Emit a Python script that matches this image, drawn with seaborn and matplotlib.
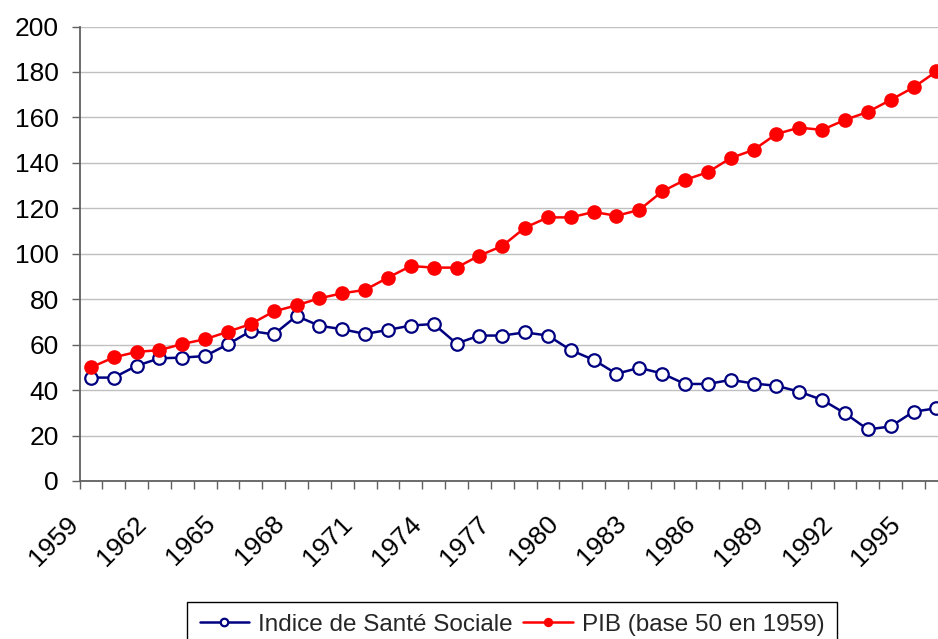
import numpy as np
import pandas as pd
import matplotlib
matplotlib.use("Agg")
import matplotlib.pyplot as plt
import matplotlib.transforms as mtransforms
from matplotlib.ticker import FixedLocator
import seaborn as sns

# data
years = list(range(1959, 1997))
indice_sante = [45.5, 45.5, 50.7, 54.0, 54.3, 55.0, 60.2, 66.0, 64.5, 72.6,
                68.3, 66.8, 64.7, 66.5, 68.4, 69.1, 60.5, 64.0, 64.0, 65.4,
                64.0, 57.6, 53.3, 47.2, 49.8, 47.3, 42.7, 42.7, 44.5, 42.9,
                41.9, 39.3, 35.7, 29.8, 22.7, 24.0, 30.5, 32.0]
pib = [50.0, 54.4, 56.8, 57.6, 60.3, 62.4, 65.7, 69.1, 74.6, 77.3,
       80.4, 82.6, 84.1, 89.5, 94.6, 93.9, 93.9, 99.2, 103.4, 111.5,
       116.0, 116.0, 118.4, 116.7, 119.3, 127.4, 132.5, 135.9, 142.1, 145.7,
       152.7, 155.5, 154.5, 158.9, 162.4, 167.7, 173.2, 180.2]
label_years = list(range(1959, 1996, 3))
y_ticks = list(range(0, 201, 20))

df = pd.DataFrame({'annee': years, 'sante': indice_sante, 'pib': pib})

sns.set_theme(style="white")
plt.rcParams['font.family'] = ['Liberation Sans', 'DejaVu Sans']

W, H = 938, 639
fig = plt.figure(figsize=(W / 100, H / 100), dpi=100)
cat_w = 22.85
ax = fig.add_axes([79.5 / W, (H - 481) / H, 38 * cat_w / W, 454.5 / H])

sns.lineplot(data=df, x='annee', y='sante', ax=ax, color='#000080', marker='o',
             markersize=9, markerfacecolor='white', markeredgecolor='#000080',
             markeredgewidth=1.6, linewidth=1.8, label='Indice de Santé Sociale')
sns.lineplot(data=df, x='annee', y='pib', ax=ax, color='#ff0000', marker='o',
             markersize=9.5, markeredgecolor='#ff0000', markeredgewidth=1,
             linewidth=1.8, label='PIB (base 50 en 1959)')

handles, labels = ax.get_legend_handles_labels()
if ax.get_legend() is not None:
    ax.get_legend().remove()

ax.set_xlim(1958.5, 1996.5)
ax.set_ylim(0, 200)
ax.set_xlabel('')
ax.set_ylabel('')

# y axis
ax.set_yticks(y_ticks)
ax.yaxis.grid(True, color='#c0c0c0', linewidth=1)
ax.xaxis.grid(False)
ax.tick_params(axis='y', which='major', direction='out', length=6, width=1,
               color='#606060', labelsize=19, pad=9, labelcolor='black', left=True)

# x axis: ticks between categories, labels every 3 years
ax.set_xticks(label_years)
ax.set_xticklabels([str(y) for y in label_years], rotation=45, ha='right', va='top')
ax.xaxis.set_minor_locator(FixedLocator([1958.5 + k for k in range(39)]))
ax.tick_params(axis='x', which='major', length=0, labelsize=19, pad=22, labelcolor='black')
ax.tick_params(axis='x', which='minor', direction='out', length=6, width=1,
               color='#606060', bottom=True)
offset = mtransforms.ScaledTranslation(-8 / 100, 0, fig.dpi_scale_trans)
for lab in ax.get_xticklabels():
    lab.set_transform(lab.get_transform() + offset)

for side in ['top', 'right']:
    ax.spines[side].set_visible(False)
for side in ['left', 'bottom']:
    ax.spines[side].set_color('#606060')
    ax.spines[side].set_linewidth(1.3)

leg = fig.legend(handles, labels, loc='upper center',
                 bbox_to_anchor=(512 / W, (H - 601.5) / H), ncol=2,
                 frameon=True, fancybox=False, edgecolor='black', framealpha=1,
                 fontsize=17.5, handlelength=2.05, handletextpad=0.35,
                 columnspacing=0.45, borderaxespad=0, borderpad=0.5,
                 markerscale=0.6)
leg.get_frame().set_linewidth(1.0)

fig.savefig('out.png', dpi=100)
